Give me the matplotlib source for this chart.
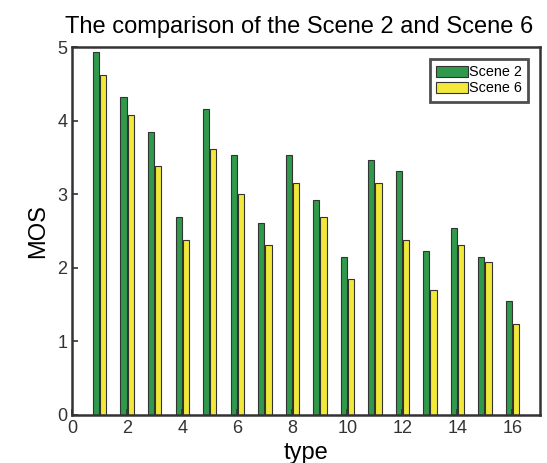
import numpy as np
import matplotlib.pyplot as plt

plt.rcParams['font.family'] = ['Liberation Sans', 'DejaVu Sans']

types = np.arange(1, 17)
scene2 = [4.93, 4.32, 3.85, 2.69, 4.16, 3.53, 2.61, 3.53,
          2.92, 2.15, 3.46, 3.31, 2.23, 2.54, 2.15, 1.55]
scene6 = [4.62, 4.08, 3.38, 2.38, 3.61, 3.00, 2.31, 3.15,
          2.69, 1.85, 3.15, 2.38, 1.70, 2.31, 2.08, 1.24]

fig = plt.figure(figsize=(5.47, 4.63), dpi=100)
ax = fig.add_axes([0.132, 0.104, 0.855, 0.794])

w = 0.23
ax.bar(types - 0.13, scene2, width=w, color='#2f9a4b', edgecolor='#333333',
       linewidth=0.8, label='Scene 2')
ax.bar(types + 0.13, scene6, width=w, color='#f1e83a', edgecolor='#333333',
       linewidth=0.8, label='Scene 6')

ax.set_xlim(0, 17)
ax.set_ylim(0, 5)
ax.set_xticks(np.arange(0, 17, 2))
ax.set_yticks(np.arange(0, 6, 1))
ax.tick_params(direction='in', length=4, width=1.2, labelsize=13,
               colors='#333333', top=False, right=False)
for s in ax.spines.values():
    s.set_linewidth(1.8)
    s.set_color('#333333')

ax.set_xlabel('type', fontsize=17, labelpad=4)
ax.set_ylabel('MOS', fontsize=17, labelpad=6)
ax.set_title('The comparison of the Scene 2 and Scene 6', fontsize=17, pad=10, x=0.485)

leg = ax.legend(loc='upper right', fontsize=10.4, frameon=True, fancybox=False,
                handlelength=2.2, handleheight=0.85, handletextpad=0.05,
                borderpad=0.45, labelspacing=0.15, borderaxespad=0.8)
leg.get_frame().set_edgecolor('#222222')
leg.get_frame().set_linewidth(2)

fig.savefig('out.png', dpi=100)
